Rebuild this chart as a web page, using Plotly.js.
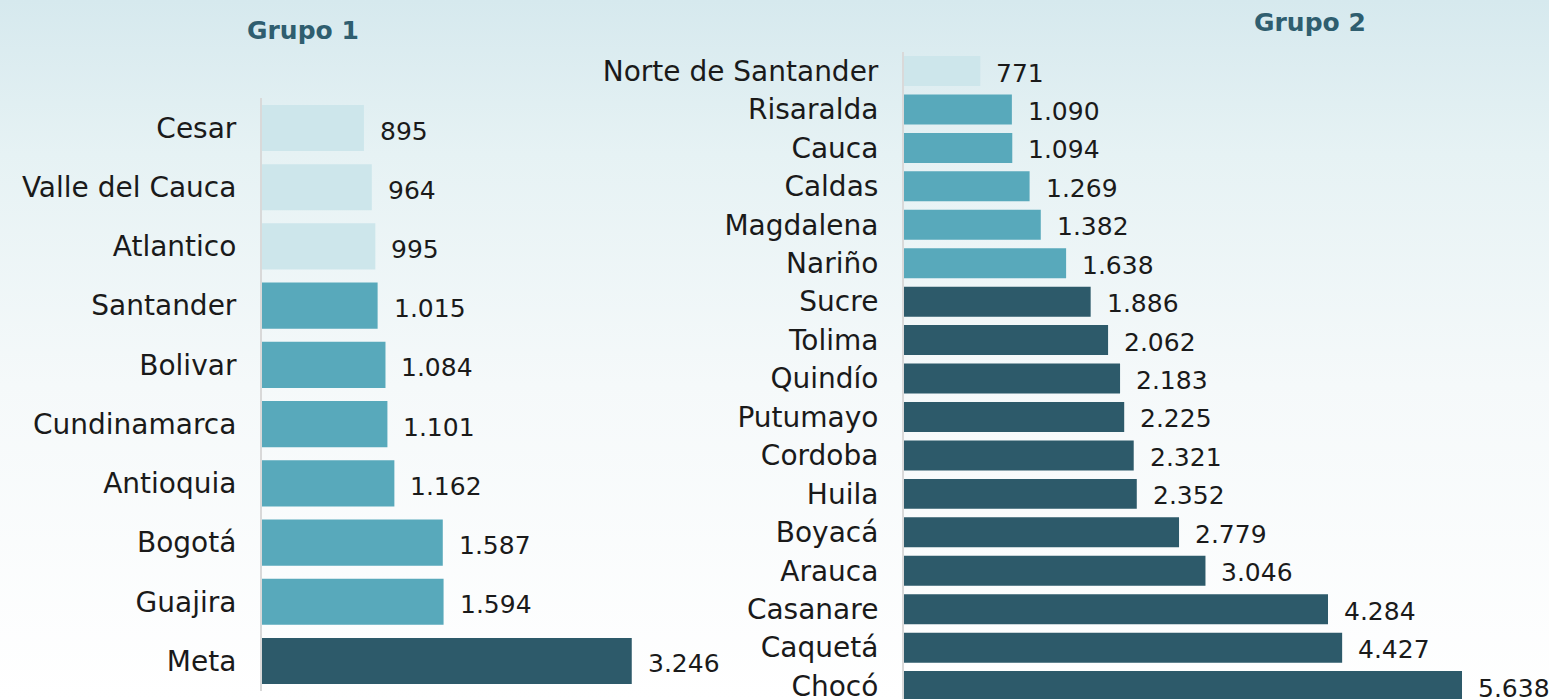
<!DOCTYPE html>
<html>
<head>
<meta charset="utf-8">
<script src="https://cdn.plot.ly/plotly-3.0.1.min.js"></script>
<style>
  html, body { margin: 0; padding: 0; }
  body { width: 1549px; height: 699px; overflow: hidden;
    background: linear-gradient(to bottom, #d6e9ee 0%, #e6f2f4 22%, #f5f9fa 55%, #ffffff 100%); }
  #chart { width: 1549px; height: 699px; }
</style>
</head>
<body>
<div id="chart"></div>
<script>
// ---- Data ----
const grupo1Deptos = ['Cesar', 'Valle del Cauca', 'Atlantico', 'Santander', 'Bolivar', 'Cundinamarca', 'Antioquia', 'Bogotá', 'Guajira', 'Meta'];
const grupo1Valores = [895, 964, 995, 1015, 1084, 1101, 1162, 1587, 1594, 3246];
const grupo1Nivel = [0, 0, 0, 1, 1, 1, 1, 1, 1, 2];

const grupo2Deptos = ['Norte de Santander', 'Risaralda', 'Cauca', 'Caldas', 'Magdalena', 'Nariño', 'Sucre', 'Tolima', 'Quindío', 'Putumayo', 'Cordoba', 'Huila', 'Boyacá', 'Arauca', 'Casanare', 'Caquetá', 'Chocó'];
const grupo2Valores = [771, 1090, 1094, 1269, 1382, 1638, 1886, 2062, 2183, 2225, 2321, 2352, 2779, 3046, 4284, 4427, 5638];
const grupo2Nivel = [0, 1, 1, 1, 1, 1, 2, 2, 2, 2, 2, 2, 2, 2, 2, 2, 2];

const titulos = ['Grupo 1', 'Grupo 2'];

// ---- Styling ----
const nivelColores = ['#cde6eb', '#58a9bb', '#2d5a6a'];
const FONT = 'DejaVu Sans, sans-serif';
const fmt = n => String(n).replace(/\B(?=(\d{3})+(?!\d))/g, '.');

const traces = [
  {
    type: 'bar', orientation: 'h',
    x: grupo1Valores, y: grupo1Deptos,
    marker: { color: grupo1Nivel.map(n => nivelColores[n]) },
    xaxis: 'x', yaxis: 'y', hoverinfo: 'x+y', showlegend: false
  },
  {
    type: 'bar', orientation: 'h',
    x: grupo2Valores, y: grupo2Deptos,
    marker: { color: grupo2Nivel.map(n => nivelColores[n]) },
    xaxis: 'x2', yaxis: 'y2', hoverinfo: 'x+y', showlegend: false
  }
];

const annotations = [];
grupo1Deptos.forEach((d, i) => annotations.push({
  x: grupo1Valores[i], y: d, xref: 'x', yref: 'y', text: fmt(grupo1Valores[i]),
  showarrow: false, xanchor: 'left', yanchor: 'middle', xshift: 14, yshift: -3,
  font: { family: FONT, size: 25, color: '#1a1a1a' }
}));
grupo2Deptos.forEach((d, i) => annotations.push({
  x: grupo2Valores[i], y: d, xref: 'x2', yref: 'y2', text: fmt(grupo2Valores[i]),
  showarrow: false, xanchor: 'left', yanchor: 'middle', xshift: 14, yshift: -2,
  font: { family: FONT, size: 25, color: '#1a1a1a' }
}));
annotations.push({
  x: 0.1953, y: 0.957, xref: 'paper', yref: 'paper', text: '<b>' + titulos[0] + '</b>',
  showarrow: false, xanchor: 'center', yanchor: 'middle',
  font: { family: FONT, size: 25, color: '#2f5e6f' }
});
annotations.push({
  x: 0.8457, y: 0.9685, xref: 'paper', yref: 'paper', text: '<b>' + titulos[1] + '</b>',
  showarrow: false, xanchor: 'center', yanchor: 'middle',
  font: { family: FONT, size: 25, color: '#2f5e6f' }
});

const hiddenX = { showgrid: false, zeroline: false, showticklabels: false, showline: false, ticks: '', fixedrange: true };
const yBase = {
  type: 'category', showgrid: false, zeroline: false, showline: true,
  linecolor: '#d9d9d9', linewidth: 2, ticks: '', ticklabelstandoff: 18,
  tickfont: { family: FONT, size: 28, color: '#1a1a1a' }, fixedrange: true
};

const layout = {
  width: 1549, height: 699,
  margin: { l: 0, r: 0, t: 0, b: 0, pad: 0 },
  paper_bgcolor: 'rgba(0,0,0,0)', plot_bgcolor: 'rgba(0,0,0,0)',
  bargap: 0.22,
  xaxis: Object.assign({}, hiddenX, { domain: [0.16914, 0.4633], range: [0, 4000], anchor: 'y' }),
  yaxis: Object.assign({}, yBase, { domain: [0.01202, 0.85923], range: [9.5, -0.5], anchor: 'x',
    categoryorder: 'array', categoryarray: grupo1Deptos }),
  xaxis2: Object.assign({}, hiddenX, { domain: [0.5836, 1], range: [0, 6517], anchor: 'y2' }),
  yaxis2: Object.assign({}, yBase, { domain: [0, 0.9259], range: [16.336, -0.5], anchor: 'x2',
    categoryorder: 'array', categoryarray: grupo2Deptos }),
  annotations: annotations
};

Plotly.newPlot('chart', traces, layout, { displayModeBar: false, staticPlot: true });
</script>
</body>
</html>
